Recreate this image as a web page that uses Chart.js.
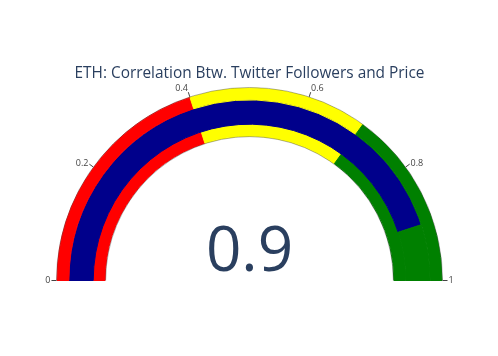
<!DOCTYPE html>
<html>
<head>
<meta charset="utf-8">
<script src="https://cdn.jsdelivr.net/npm/chart.js@4"></script>
<style>
	html, body { margin:0; padding:0; background:#fff; }
	#wrap { width:498px; height:356px; }
</style>
</head>
<body>
<div id="wrap"><canvas id="gaugeChart" width="498" height="356"></canvas></div>
<script>
var titleText = 'ETH: Correlation Btw. Twitter Followers and Price'
var gaugeValue = 0.9
var stepRanges = [0.4, 0.3, 0.3]          // 0-0.4, 0.4-0.7, 0.7-1
var stepColors = ['red', 'yellow', 'green']
var tickValues = [0, 0.2, 0.4, 0.6, 0.8, 1]
var tickLabels = ['0', '0.2', '0.4', '0.6', '0.8', '1']

// middle ring: the bar, then whatever step is left behind it
function barRing() {
	return [gaugeValue, 1 - gaugeValue]
}
var barColors = ['#00008b', 'green']

var gaugeExtras = {
	id: 'gaugeExtras',
	afterDatasetsDraw: function(chart) {
		var arc = chart.getDatasetMeta(0).data[0]
		var inner = chart.getDatasetMeta(2).data[0]
		if( !arc ) return
		var cx = arc.x, cy = arc.y
		var rOut = arc.outerRadius + 0.5, rIn = inner.innerRadius - 0.5
		var ctx = chart.ctx
		ctx.save()
		// thin border round the gauge
		ctx.strokeStyle = 'rgba(68,68,68,0.6)'
		ctx.lineWidth = 0.7
		ctx.beginPath()
		ctx.arc(cx, cy, rOut, Math.PI, 2 * Math.PI)
		ctx.stroke()
		ctx.beginPath()
		ctx.arc(cx, cy, rIn, Math.PI, 2 * Math.PI)
		ctx.stroke()
		// ticks and labels
		ctx.font = '9px "Open Sans", sans-serif'
		ctx.fillStyle = '#444'
		ctx.strokeStyle = '#444'
		ctx.lineWidth = 1
		for( var i = 0; i < tickValues.length; i++ ) {
			var a = Math.PI + tickValues[i] * Math.PI
			var c = Math.cos(a), s = Math.sin(a)
			ctx.beginPath()
			ctx.moveTo(cx + rOut * c, cy + rOut * s)
			ctx.lineTo(cx + (rOut + 5) * c, cy + (rOut + 5) * s)
			ctx.stroke()
			var lx = cx + (rOut + 6) * c, ly = cy + (rOut + 6) * s
			ctx.textAlign = c < -0.05 ? 'right' : (c > 0.05 ? 'left' : 'center')
			ctx.textBaseline = 'middle'
			ctx.fillText(tickLabels[i], lx, ly - (s < -0.8 ? 3 : 0))
		}
		// the number
		ctx.font = '62px "Open Sans", sans-serif'
		ctx.fillStyle = '#2a3f5f'
		ctx.textAlign = 'center'
		ctx.textBaseline = 'alphabetic'
		ctx.fillText(String(gaugeValue), cx, 271)
		ctx.restore()
	}
}

var ctx = document.getElementById('gaugeChart')
var myChart = new Chart( ctx, {
	type: 'doughnut',
	data: {
		datasets: [
			{ data: stepRanges, backgroundColor: stepColors, borderColor: stepColors, borderWidth: 1, weight: 12 },
			{ data: barRing(), backgroundColor: barColors, borderColor: barColors, borderWidth: 1, weight: 24.5 },
			{ data: stepRanges, backgroundColor: stepColors, borderColor: stepColors, borderWidth: 1, weight: 12 }
		]
	},
	options: {
		responsive: false,
		animation: false,
		rotation: -90,
		circumference: 180,
		cutout: '75%',
		layout: { padding: { top: 64, left: 56, right: 55, bottom: 75 } },
		plugins: {
			legend: { display: false },
			tooltip: { enabled: false },
			title: {
				display: true,
				text: titleText,
				color: '#2a3f5f',
				font: { family: '"Open Sans", sans-serif', size: 15.4, weight: 'normal', lineHeight: 1.2 },
				padding: { top: 0, bottom: 5 }
			}
		}
	},
	plugins: [gaugeExtras]
})
</script>
</body>
</html>
